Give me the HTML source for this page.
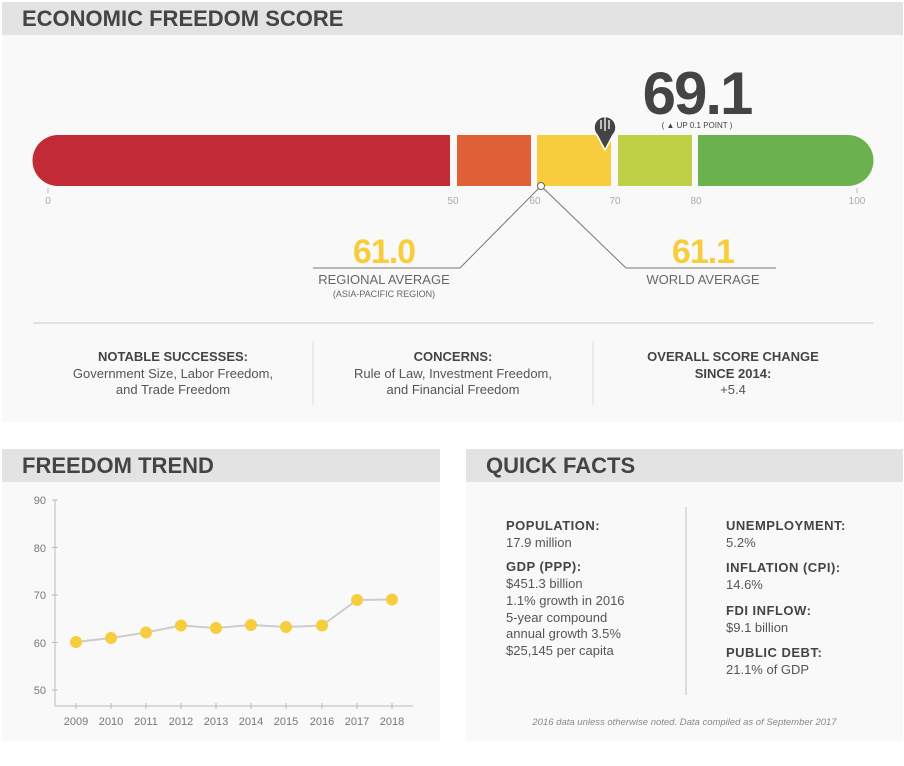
<!DOCTYPE html>
<html><head><meta charset="utf-8"><style>
body{margin:0;width:904px;height:766px;background:#fff;position:relative;font-family:"Liberation Sans",sans-serif;color:#555;overflow:hidden}
.a{position:absolute}
.panel{position:absolute;background:#faf9f9}
.hdr{position:absolute;left:0;right:0;top:0;height:33px;background:#e3e3e3;font-weight:bold;font-size:22px;color:#444;line-height:34px;padding-left:20px}
.c{text-align:center;font-size:13px;line-height:16.5px;color:#555}
.c b{color:#444}
.qf{font-size:13px;line-height:16.7px;color:#555}
.qf b{color:#444;letter-spacing:0.5px}
</style></head><body>
<div class="panel" style="left:2px;top:2px;width:901px;height:420px">
<div class="hdr" style="height:33px">ECONOMIC FREEDOM SCORE</div>
</div>
<svg class="a" style="left:0;top:0" width="904" height="422">
<path d="M58 135 H450 V186 H58 A25.5 25.5 0 0 1 58 135Z" fill="#c22b36"/>
<rect x="457" y="135" width="74" height="51" fill="#df5f37"/>
<rect x="537" y="135" width="74" height="51" fill="#f8cd3d"/>
<rect x="618" y="135" width="74" height="51" fill="#bfd046"/>
<path d="M698 135 H848 A25.5 25.5 0 0 1 848 186 H698Z" fill="#6bb24e"/>
<g fill="#aaa" font-size="10" text-anchor="middle">
<line x1="48" y1="188" x2="48" y2="193" stroke="#bbb"/>
<line x1="857" y1="188" x2="857" y2="193" stroke="#bbb"/>
<text x="48" y="204">0</text><text x="453" y="204">50</text><text x="535" y="204">60</text><text x="615" y="204">70</text><text x="696" y="204">80</text><text x="857" y="204">100</text>
</g>
<polyline points="313,268 460,268 541,186 626,268 776,268" fill="none" stroke="#777" stroke-width="1"/>
<circle cx="541" cy="186" r="3.5" fill="#fff" stroke="#666"/>
<path d="M605 150 L597 135 A11 11 0 1 1 613 135Z" fill="#444" stroke="#fff" stroke-width="1.5"/>
<g stroke="#fff" stroke-width="1.3"><line x1="601" y1="120" x2="601" y2="129"/><line x1="605" y1="117" x2="605" y2="131"/><line x1="609" y1="120" x2="609" y2="129"/></g>
<text x="697" y="114" font-size="60" font-weight="bold" fill="#444" text-anchor="middle" letter-spacing="-2">69.1</text>
<text x="697" y="128" font-size="8" fill="#444" text-anchor="middle">( ▲ UP 0.1 POINT )</text>
<text x="384" y="263" font-size="34" font-weight="bold" fill="#f8cd3d" text-anchor="middle" letter-spacing="-1">61.0</text>
<text x="703" y="263" font-size="34" font-weight="bold" fill="#f8cd3d" text-anchor="middle" letter-spacing="-1">61.1</text>
<text x="384" y="284" font-size="13" fill="#666" text-anchor="middle">REGIONAL AVERAGE</text>
<text x="384" y="297" font-size="9" fill="#666" text-anchor="middle">(ASIA-PACIFIC REGION)</text>
<text x="703" y="284" font-size="13" fill="#666" text-anchor="middle">WORLD AVERAGE</text>
<line x1="33" y1="323" x2="873" y2="323" stroke="#e2e2e2" stroke-width="2"/>
<line x1="313" y1="341" x2="313" y2="405" stroke="#ddd"/>
<line x1="593" y1="341" x2="593" y2="405" stroke="#ddd"/>
</svg>
<div class="a c" style="left:33px;width:280px;top:349px"><b>NOTABLE SUCCESSES:</b><br>Government Size, Labor Freedom,<br>and Trade Freedom</div>
<div class="a c" style="left:313px;width:280px;top:349px"><b>CONCERNS:</b><br>Rule of Law, Investment Freedom,<br>and Financial Freedom</div>
<div class="a c" style="left:593px;width:280px;top:349px"><b>OVERALL SCORE CHANGE<br>SINCE 2014:</b><br>+5.4</div>

<div class="panel" style="left:2px;top:449px;width:438px;height:292px"><div class="hdr">FREEDOM TREND</div></div>
<svg class="a" style="left:0;top:440px" width="450" height="310">
<g stroke="#bbb" fill="none">
<line x1="55" y1="60" x2="55" y2="266"/><line x1="55" y1="266" x2="413" y2="266"/>
<line x1="52" y1="60" x2="58" y2="60"/><line x1="52" y1="107.5" x2="58" y2="107.5"/><line x1="52" y1="155" x2="58" y2="155"/><line x1="52" y1="202.5" x2="58" y2="202.5"/><line x1="52" y1="250" x2="58" y2="250"/>
</g>
<g font-size="11" fill="#777" text-anchor="end"><text x="46" y="64">90</text><text x="46" y="112">80</text><text x="46" y="159">70</text><text x="46" y="207">60</text><text x="46" y="254">50</text></g>
<g font-size="11" fill="#777" text-anchor="middle">
<text x="76" y="285">2009</text><text x="111" y="285">2010</text><text x="146" y="285">2011</text><text x="181" y="285">2012</text><text x="216" y="285">2013</text><text x="251" y="285">2014</text><text x="286" y="285">2015</text><text x="322" y="285">2016</text><text x="357" y="285">2017</text><text x="392" y="285">2018</text>
</g>
<g stroke="#bbb"><line x1="76" y1="263" x2="76" y2="269"/><line x1="111" y1="263" x2="111" y2="269"/><line x1="146" y1="263" x2="146" y2="269"/><line x1="181" y1="263" x2="181" y2="269"/><line x1="216" y1="263" x2="216" y2="269"/><line x1="251" y1="263" x2="251" y2="269"/><line x1="286" y1="263" x2="286" y2="269"/><line x1="322" y1="263" x2="322" y2="269"/><line x1="357" y1="263" x2="357" y2="269"/><line x1="392" y1="263" x2="392" y2="269"/></g>
<polyline points="76,202 111,198 146,192.5 181,185.5 216,188 251,185 286,187 322,185.5 357,160 392,159.5" fill="none" stroke="#ccc" stroke-width="2"/>
<g fill="#f8cd3d"><circle cx="76" cy="202" r="6"/><circle cx="111" cy="198" r="6"/><circle cx="146" cy="192.5" r="6"/><circle cx="181" cy="185.5" r="6"/><circle cx="216" cy="188" r="6"/><circle cx="251" cy="185" r="6"/><circle cx="286" cy="187" r="6"/><circle cx="322" cy="185.5" r="6"/><circle cx="357" cy="160" r="6"/><circle cx="392" cy="159.5" r="6"/></g>
</svg>

<div class="panel" style="left:466px;top:449px;width:437px;height:292px"><div class="hdr">QUICK FACTS</div></div>
<div class="a" style="left:685px;top:507px;width:2px;height:188px;background:#ddd"></div>
<div class="a qf" style="left:506px;top:518px"><b>POPULATION:</b><br>17.9 million<div style="height:8px"></div><b>GDP (PPP):</b><br>$451.3 billion<br>1.1% growth in 2016<br>5-year compound<br>annual growth 3.5%<br>$25,145 per capita</div>
<div class="a qf" style="left:726px;top:518px"><b>UNEMPLOYMENT:</b><br>5.2%<div style="height:9px"></div><b>INFLATION (CPI):</b><br>14.6%<div style="height:9px"></div><b>FDI INFLOW:</b><br>$9.1 billion<div style="height:9px"></div><b>PUBLIC DEBT:</b><br>21.1% of GDP</div>
<div class="a" style="left:466px;width:437px;top:717px;text-align:center;font-size:9.5px;font-style:italic;color:#888">2016 data unless otherwise noted. Data compiled as of September 2017</div>
</body></html>
